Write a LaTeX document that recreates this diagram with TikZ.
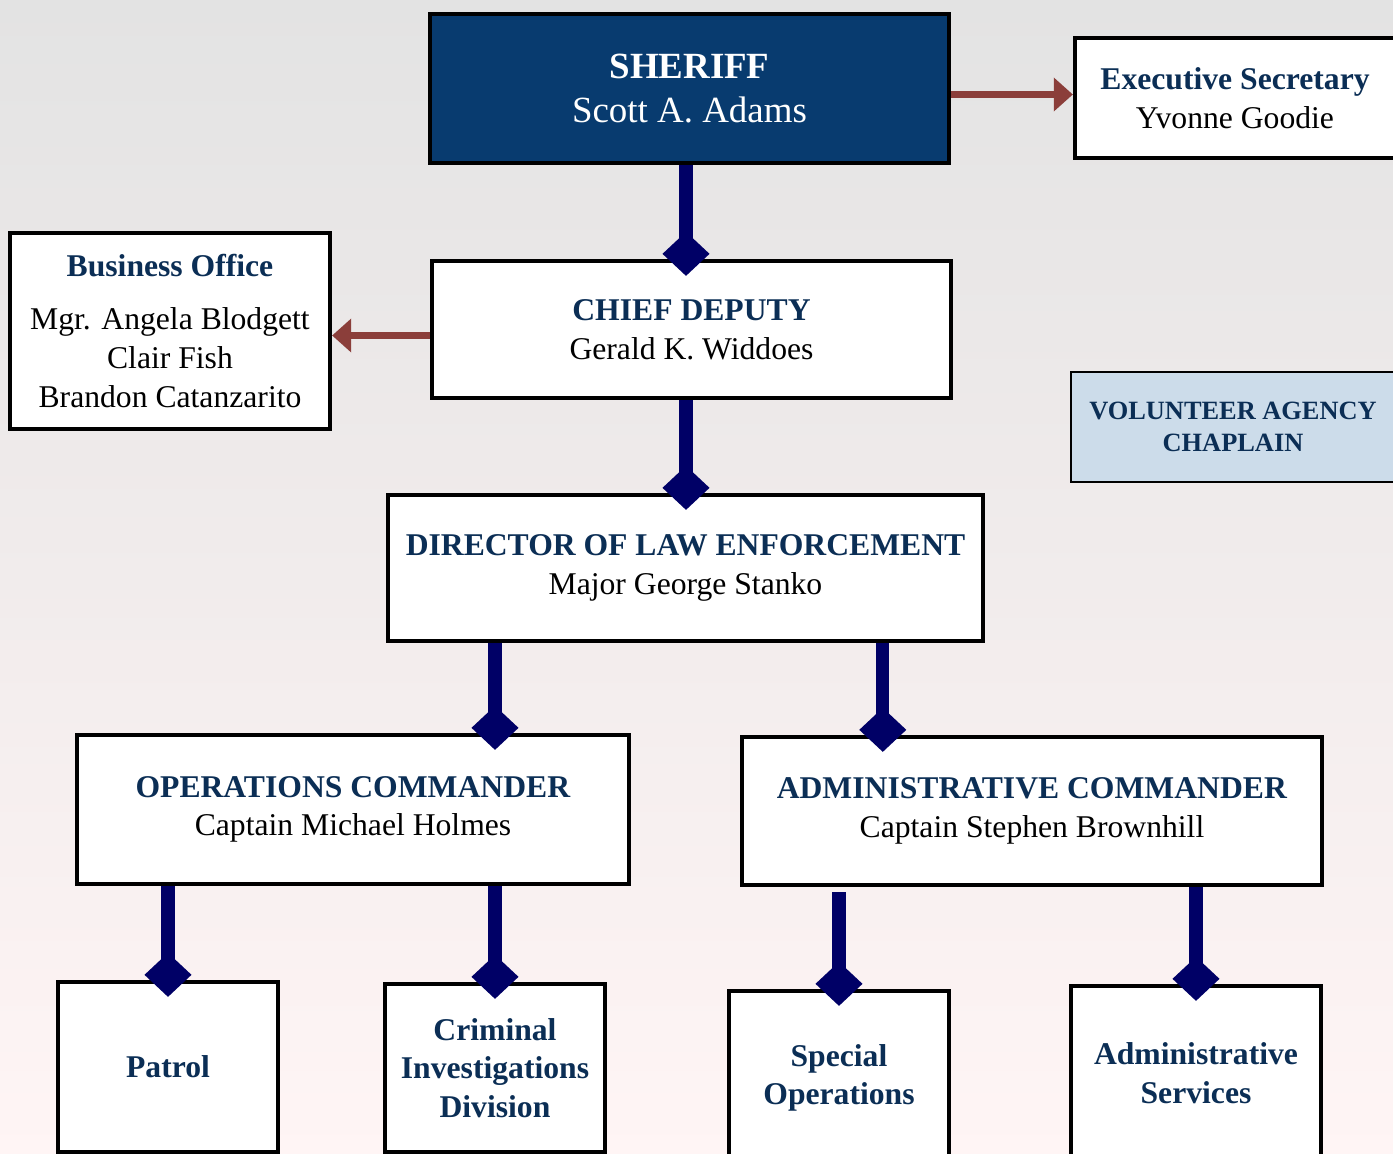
\documentclass[tikz,border=0pt]{standalone}
\usepackage{fontspec}
\setmainfont{Liberation Serif}
\usetikzlibrary{arrows.meta}

\definecolor{sheriffblue}{HTML}{083B6F}
\definecolor{headnavy}{HTML}{0B2E55}
\definecolor{linknavy}{HTML}{000066}
\definecolor{arrowred}{HTML}{8B3E3A}
\definecolor{chaplainblue}{HTML}{CCDCEA}

\begin{document}
\begin{tikzpicture}[
    x=0.01cm, y=-0.01cm,
    box style/.style={draw=black, line width=1.2pt, fill=white, align=center, inner sep=2pt, font=\fontsize{9}{11}\selectfont},
    unit style/.style={box style, minimum width=2.2cm, font=\fontsize{9}{11}\selectfont\bfseries, text=headnavy},
    link style/.style={line width=3.8pt, linknavy, -{Diamond[length=0.44cm, width=0.47cm, line width=0pt]}, shorten >=-0.17cm},
    side arrow style/.style={line width=2pt, arrowred, -{Triangle[length=0.19cm, width=0.34cm, line width=0pt]}}
]

% Page and background
\useasboundingbox (0,0) rectangle (1393,1154);
\clip (0,0) rectangle (1393,1154);
\fill[top color=gray!22, middle color=gray!8, bottom color=red!4!white] (0,0) rectangle (1393,1154);

% Top of the chart
\node[box style, fill=sheriffblue, text=white, minimum width=5.19cm, minimum height=1.49cm, font=\fontsize{10.5}{12.6}\selectfont] (sheriff) at (689.5,88.5) {\textbf{SHERIFF}\\Scott A. Adams};
\node[box style, minimum width=3.2cm, minimum height=1.2cm] (secretary) at (1235,98) {\textcolor{headnavy}{\textbf{Executive Secretary}}\\Yvonne Goodie};

% Second row
\node[box style, minimum width=3.2cm, minimum height=1.96cm] (business) at (170,331) {\textcolor{headnavy}{\textbf{Business Office}}\\[1.4mm]Mgr. Angela Blodgett\\Clair Fish\\Brandon Catanzarito};
\node[box style, minimum width=5.19cm, minimum height=1.37cm] (chief) at (691.5,329.5) {\textcolor{headnavy}{\textbf{CHIEF DEPUTY}}\\Gerald K. Widdoes};
\node[box style, fill=chaplainblue, line width=0.7pt, minimum width=3.24cm, minimum height=1.1cm, font=\fontsize{7.5}{9}\selectfont\bfseries, text=headnavy] (chaplain) at (1233,427) {VOLUNTEER AGENCY\\CHAPLAIN};

% Director and commanders
\node[box style, minimum width=5.95cm, minimum height=1.46cm] (director) at (685.5,568) {\textcolor{headnavy}{\textbf{DIRECTOR OF LAW ENFORCEMENT}}\\Major George Stanko};
\node[box style, minimum width=5.52cm, minimum height=1.49cm] (ops) at (353,809.5) {\textcolor{headnavy}{\textbf{OPERATIONS COMMANDER}}\\Captain Michael Holmes};
\node[box style, minimum width=5.8cm, minimum height=1.48cm] (admin) at (1032,811) {\textcolor{headnavy}{\textbf{ADMINISTRATIVE COMMANDER}}\\Captain Stephen Brownhill};

% Divisions
\node[unit style, minimum height=1.7cm] (patrol) at (168,1067) {Patrol};
\node[unit style, minimum height=1.68cm] (cid) at (495,1068) {Criminal\\Investigations\\Division};
\node[unit style, minimum height=1.74cm] (specops) at (839,1078) {Special\\Operations};
\node[unit style, minimum width=2.5cm, minimum height=1.74cm] (adminserv) at (1196,1073) {Administrative\\Services};

% Side arrows
\draw[side arrow style] ([yshift=-0.06cm]sheriff.east) -- ([yshift=-0.06cm]sheriff.east -| secretary.west);
\draw[side arrow style] ([yshift=-0.06cm]chief.west) -- ([yshift=-0.06cm]chief.west -| business.east);

% Chain of command
\coordinate (admin in) at ([xshift=1.43cm]admin.north west);
\draw[link style] ([xshift=-0.035cm]sheriff.south) -- ([xshift=-0.035cm]sheriff.south |- chief.north);
\draw[link style] ([xshift=-0.055cm]chief.south) -- ([xshift=-0.055cm]chief.south |- director.north);
\draw[link style] (director.south -| cid) -- (ops.north -| cid);
\draw[link style] (director.south -| admin in) -- (admin in);
\draw[link style] (ops.south -| patrol) -- (patrol.north);
\draw[link style] (ops.south -| cid) -- (cid.north);
\draw[link style] ([yshift=-0.05cm]admin.south -| specops) -- (specops.north);
\draw[link style] (admin.south -| adminserv) -- (adminserv.north);
\end{tikzpicture}
\end{document}
